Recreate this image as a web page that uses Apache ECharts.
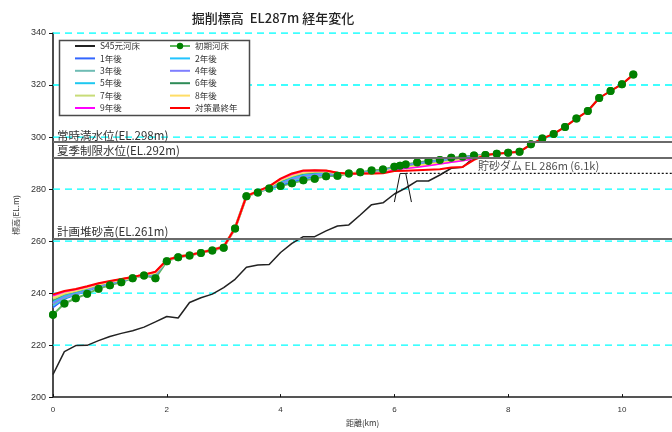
<!DOCTYPE html>
<html>
<head>
<meta charset="utf-8">
<script src="https://cdn.jsdelivr.net/npm/echarts@6/dist/echarts.min.js"></script>
<style>
  html, body { margin: 0; padding: 0; background: #fff; }
  #chart { width: 672px; height: 432px; }
</style>
</head>
<body>
<div id="chart"></div>
<script>
// Distance grid (km) shared by the S45 bed and the yearly bed profiles
const yearKm = [0, 0.2, 0.4, 0.6, 0.8, 1.0, 1.2, 1.4, 1.6, 1.8, 2.0, 2.2, 2.4, 2.6, 2.8, 3.0, 3.2, 3.4,
  3.6, 3.8, 4.0, 4.2, 4.4, 4.6, 4.8, 5.0, 5.2, 5.4, 5.6, 5.8, 6.0, 6.2, 6.4, 6.6, 6.8, 7.0, 7.2, 7.4, 7.6];

// S45 original riverbed (EL.m)
const s45Elev = [208.7, 217.5, 219.8, 219.9, 221.7, 223.3, 224.5, 225.5, 226.9, 228.9, 231.0, 230.4, 236.4, 238.2, 239.6, 242.1, 245.3, 249.9,
  250.8, 251.0, 255.6, 259.1, 261.7, 261.7, 263.9, 265.8, 266.2, 270.0, 274.0, 274.7, 278.1, 280.4, 283.1, 283.1, 285.4, 288.0, 288.4, 292.2, 293.1];

// Initial riverbed survey points
const initKm = [0, 0.2, 0.4, 0.6, 0.8, 1.0, 1.2, 1.4, 1.6, 1.8, 2.0, 2.2, 2.4, 2.6, 2.8, 3.0, 3.2, 3.4, 3.6, 3.8,
  4.0, 4.2, 4.4, 4.6, 4.8, 5.0, 5.2, 5.4, 5.6, 5.8, 6.0, 6.1, 6.2, 6.4, 6.6, 6.8, 7.0, 7.2, 7.4, 7.6, 7.8,
  8.0, 8.2, 8.4, 8.6, 8.8, 9.0, 9.2, 9.4, 9.6, 9.8, 10.0, 10.2];
const initElev = [231.7, 236.0, 238.0, 239.7, 241.7, 243.0, 244.2, 245.7, 246.8, 245.7, 252.2, 253.8, 254.4, 255.4, 256.4, 257.4, 264.8, 277.2, 278.7, 280.2,
  281.2, 282.2, 283.4, 284.0, 284.9, 285.1, 286.0, 286.5, 287.1, 287.5, 288.6, 289.0, 289.4, 290.2, 290.8, 291.2, 292.0, 292.4, 292.9, 293.1, 293.6,
  294.0, 294.3, 297.2, 299.4, 301.2, 303.9, 307.1, 310.0, 315.0, 317.7, 320.3, 324.0];

// Bed profiles 1 to 9 years after
const year1 = [234.4, 237.7, 239.3, 240.7, 242.4, 243.6, 244.6, 245.9, 246.9, 246.6, 252.7, 254.0, 254.6, 255.6, 256.6, 257.8, 265.0, 277.3,
  278.8, 280.3, 281.5, 282.7, 283.9, 284.8, 285.5, 285.6, 286.0, 286.3, 286.6, 287.0, 288.4, 289.1, 289.9, 290.5, 291.0, 291.7, 292.2, 292.7, 293.1];
const year2 = [235.1, 238.1, 239.5, 240.9, 242.6, 243.7, 244.7, 245.9, 246.9, 246.8, 252.7, 254.0, 254.6, 255.6, 256.6, 257.8, 265.0, 277.3,
  278.9, 280.4, 281.9, 283.2, 284.4, 285.2, 285.8, 285.7, 286.0, 286.3, 286.5, 286.9, 288.3, 289.0, 289.8, 290.4, 290.9, 291.6, 292.1, 292.6, 293.1];
const year3 = [235.6, 238.4, 239.8, 241.2, 242.8, 243.8, 244.8, 246.0, 246.9, 247.0, 252.7, 254.0, 254.6, 255.6, 256.6, 257.8, 265.0, 277.3,
  278.9, 280.5, 282.2, 283.6, 284.8, 285.5, 286.0, 285.8, 286.0, 286.2, 286.5, 286.8, 288.2, 288.9, 289.6, 290.2, 290.7, 291.4, 291.9, 292.5, 293.1];
const year4 = [236.2, 238.8, 240.1, 241.4, 242.9, 243.9, 244.9, 246.0, 247.0, 247.2, 252.7, 254.0, 254.6, 255.6, 256.6, 257.8, 265.0, 277.3,
  279.0, 280.6, 282.5, 284.0, 285.2, 285.8, 286.2, 285.9, 286.0, 286.2, 286.4, 286.7, 288.1, 288.8, 289.5, 290.1, 290.6, 291.3, 291.8, 292.4, 293.1];
const year5 = [236.8, 239.1, 240.3, 241.6, 243.1, 244.0, 245.0, 246.0, 247.0, 247.4, 252.7, 254.0, 254.6, 255.6, 256.6, 257.8, 265.0, 277.3,
  279.0, 280.6, 282.8, 284.4, 285.6, 286.1, 286.4, 286.0, 286.0, 286.2, 286.3, 286.6, 288.0, 288.6, 289.3, 289.9, 290.4, 291.1, 291.6, 292.3, 293.1];
const year6 = [237.3, 239.5, 240.6, 241.8, 243.2, 244.2, 245.1, 246.1, 247.0, 247.6, 252.7, 254.0, 254.6, 255.6, 256.6, 257.8, 265.0, 277.3,
  279.1, 280.7, 283.1, 284.8, 286.0, 286.4, 286.6, 286.1, 286.0, 286.1, 286.3, 286.5, 287.9, 288.5, 289.1, 289.7, 290.2, 290.9, 291.5, 292.2, 293.1];
const year7 = [237.9, 239.8, 240.9, 242.0, 243.4, 244.3, 245.2, 246.1, 247.0, 247.8, 252.7, 254.0, 254.6, 255.6, 256.6, 257.8, 265.0, 277.3,
  279.1, 280.8, 283.4, 285.1, 286.3, 286.7, 286.8, 286.2, 286.0, 286.1, 286.2, 286.4, 287.8, 288.3, 288.9, 289.5, 290.0, 290.7, 291.3, 292.0, 293.1];
const year8 = [238.5, 240.2, 241.1, 242.2, 243.5, 244.4, 245.2, 246.1, 247.1, 247.9, 252.7, 254.0, 254.6, 255.6, 256.6, 257.8, 265.0, 277.3,
  279.2, 280.9, 283.6, 285.4, 286.6, 286.9, 286.9, 286.2, 286.0, 286.1, 286.1, 286.3, 287.6, 288.1, 288.7, 289.3, 289.8, 290.5, 291.1, 291.8, 293.1];
const year9 = [239.0, 240.5, 241.4, 242.4, 243.7, 244.5, 245.3, 246.2, 247.1, 248.1, 252.7, 254.0, 254.6, 255.6, 256.6, 257.8, 265.0, 277.3,
  279.2, 281.0, 283.8, 285.7, 286.9, 287.1, 287.0, 286.3, 285.9, 286.0, 286.1, 286.2, 287.4, 287.9, 288.4, 289.0, 289.6, 290.3, 290.9, 291.6, 293.1];

// Final year of the countermeasure
const finalKm = [0, 0.2, 0.4, 0.6, 0.8, 1.0, 1.2, 1.4, 1.6, 1.8, 2.0, 2.2, 2.4, 2.6, 2.8, 3.0, 3.2, 3.4,
  3.6, 3.8, 4.0, 4.2, 4.4, 4.6, 4.8, 5.0, 5.2, 5.4, 5.6, 5.8, 6.0, 6.2, 6.4, 6.6, 6.8, 7.0, 7.2, 7.4, 7.6,
  7.8, 8.0, 8.2, 8.4, 8.6, 8.8, 9.0, 9.2, 9.4, 9.6, 9.8, 10.0, 10.2];
const finalElev = [239.5, 240.8, 241.6, 242.6, 243.8, 244.6, 245.4, 246.2, 247.1, 248.2, 252.7, 254.0, 254.6, 255.6, 256.6, 257.8, 265.0, 277.3,
  279.2, 281.0, 284.0, 286.0, 287.1, 287.2, 287.1, 286.3, 285.9, 286.0, 286.0, 286.1, 286.9, 287.0, 287.2, 287.4, 287.6, 288.3, 288.5, 291.2, 293.1,
  293.6, 294.0, 294.3, 297.2, 299.4, 301.2, 303.9, 307.1, 310.0, 315.0, 317.7, 320.3, 324.0];

// Sediment check dam outline and crest level
const damKm = [6.0, 6.1, 6.2, 6.3];
const damElev = [275, 286, 286, 275];
const damCrestKm = [6.2, 10.88];
const damCrestElev = [286, 286];
const damLabel = '貯砂ダム EL 286m (6.1k)';
const damLabelAt = [7.47, 286];

// Reference water / sediment levels
const levelElev = [298, 292, 261];
const levelNames = ['常時満水位(EL.298m)', '夏季制限水位(EL.292m)', '計画堆砂高(EL.261m)'];

// Elevation gridlines across the full distance range
const gridElev = [220, 240, 260, 280, 300, 320, 340];
const gridKm = [0, 10.88];

const yearNames = ['1年後', '2年後', '3年後', '4年後', '5年後', '6年後', '7年後', '8年後', '9年後'];
const yearSeries = [year1, year2, year3, year4, year5, year6, year7, year8, year9];
const yearColors = ['#3366ff', '#22c4ff', '#6fbcb4', '#7f7fff', '#1ec8f0', '#2e8b57', '#c8dc78', '#ffdd66', '#ff00ff'];
const yearWidths = [1.5, 1.5, 2.5, 2.5, 1.5, 1.5, 2.5, 2.5, 1.5];

const pairs = (xs, ys) => xs.map((x, i) => [x, ys[i]]);

const CJK = '"Noto Sans CJK JP", sans-serif';
const NUM = '"Liberation Sans", Arial, sans-serif';

const series = [];
// cyan dashed elevation gridlines, drawn beneath every profile
gridElev.forEach(v => {
  series.push({
    name: 'grid' + v, type: 'line', data: gridKm.map(x => [x, v]), symbol: 'none', silent: true,
    lineStyle: { color: 'rgb(0,255,255)', width: 1.3, type: [7, 5] }
  });
});
series.push({
  name: 'S45元河床', type: 'line', data: pairs(yearKm, s45Elev),
  symbol: 'none', lineStyle: { color: '#222', width: 1.5 }, itemStyle: { color: '#222' },
  markLine: {
    silent: true, symbol: ['none', 'none'],
    lineStyle: { color: '#6a6a6a', width: 2, type: 'solid' },
    label: { show: true, position: 'insideStartTop', distance: [4, 1], color: '#333', fontSize: 11.5, fontFamily: CJK },
    data: levelElev.map((v, i) => ({ yAxis: v, label: { formatter: levelNames[i] } }))
  }
});
series.push({
  name: '初期河床', type: 'line', data: pairs(initKm, initElev),
  symbol: 'circle', symbolSize: 8, showSymbol: true,
  lineStyle: { color: '#5cb85c', width: 2 }, itemStyle: { color: '#008000' }
});
yearSeries.forEach((ys, i) => {
  series.push({
    name: yearNames[i], type: 'line', data: pairs(yearKm, ys), symbol: 'none',
    lineStyle: { color: yearColors[i], width: yearWidths[i] }, itemStyle: { color: yearColors[i] }
  });
});
series.push({
  name: '対策最終年', type: 'line', data: pairs(finalKm, finalElev), symbol: 'none',
  lineStyle: { color: '#ff0000', width: 2 }, itemStyle: { color: '#ff0000' }
});
// survey points drawn above every profile
series.push({
  name: '初期河床点', type: 'scatter', data: pairs(initKm, initElev),
  symbol: 'circle', symbolSize: 8, itemStyle: { color: '#008000' }, silent: true
});
series.push({
  name: 'dam', type: 'line', data: pairs(damKm, damElev), symbol: 'none',
  lineStyle: { color: '#111', width: 1 }, silent: true
});
series.push({
  name: 'damCrest', type: 'line', data: pairs(damCrestKm, damCrestElev), symbol: 'none',
  lineStyle: { color: '#111', width: 1.3, type: [2, 2] }, silent: true
});
series.push({
  name: 'damLabel', type: 'scatter', data: [damLabelAt], symbolSize: 0, silent: true,
  label: { show: true, formatter: damLabel, position: [0, 0], align: 'left', verticalAlign: 'bottom',
    offset: [0, -2], color: '#222', fontSize: 11, fontFamily: CJK }
});

// legend entries: plain line icons, except the survey line which keeps its dot
const lineOnly = name => ({ name: name, itemStyle: { opacity: 0 } });
const legendBase = {
  orient: 'vertical', itemWidth: 20, itemHeight: 8, itemGap: 3.4, selectedMode: false, z: 10, padding: 0,
  textStyle: { fontSize: 8.5, lineHeight: 9, color: '#333', fontFamily: CJK }
};

const chart = echarts.init(document.getElementById('chart'), null, { renderer: 'canvas' });
chart.setOption({
  animation: false,
  backgroundColor: '#fff',
  graphic: [
    { type: 'text', x: 273, y: 18, z: 10,
      style: { text: '掘削標高  EL287m 経年変化', fill: '#222', font: '500 13px "Noto Sans CJK JP"', align: 'center', verticalAlign: 'middle' } },
    { type: 'rect', z: 5, shape: { x: 59.5, y: 40.5, width: 190, height: 75 },
      style: { fill: '#fff', stroke: '#4a4a4a', lineWidth: 1.5 } }
  ],
  legend: [
    Object.assign({ left: 74, top: 41.5,
      data: ['S45元河床', '1年後', '3年後', '5年後', '7年後', '9年後'].map(lineOnly) }, legendBase),
    Object.assign({ left: 169, top: 41.5,
      data: ['初期河床'].concat(['2年後', '4年後', '6年後', '8年後', '対策最終年'].map(lineOnly)) }, legendBase)
  ],
  grid: { left: 53, right: 0, top: 33, bottom: 29, containLabel: false },
  xAxis: {
    type: 'value', min: 0, max: 10.88, interval: 2,
    name: '距離(km)', nameLocation: 'middle', nameGap: 21,
    nameTextStyle: { fontSize: 8, color: '#333', fontFamily: CJK },
    axisLine: { show: true, lineStyle: { color: '#555', width: 2 } },
    axisTick: { show: true, inside: true, length: 3, lineStyle: { color: '#111' } },
    axisLabel: { fontSize: 8, color: '#333', margin: 9, fontFamily: NUM, showMaxLabel: false },
    splitLine: { show: false }
  },
  yAxis: {
    type: 'value', min: 200, max: 340, interval: 20,
    name: '標高(EL.m)', nameLocation: 'middle', nameGap: 29,
    nameTextStyle: { fontSize: 8, color: '#333', fontFamily: CJK },
    axisLine: { show: true, lineStyle: { color: '#111', width: 1.5 } },
    axisTick: { show: true, length: 4, lineStyle: { color: '#111' } },
    axisLabel: { fontSize: 9, color: '#333', margin: 7, fontFamily: NUM },
    splitLine: { show: false }
  },
  series: series
});
</script>
</body>
</html>
